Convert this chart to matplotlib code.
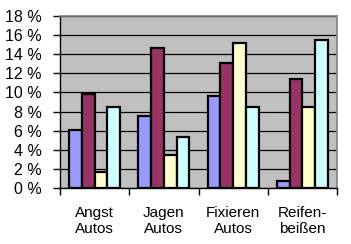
import matplotlib.pyplot as plt
import numpy as np

plt.rcParams['font.family'] = ['Liberation Sans', 'DejaVu Sans']

categories = ['Angst\nAutos', 'Jagen\nAutos', 'Fixieren\nAutos', 'Reifen-\nbeißen']
series_a = [6.1, 7.5, 9.6, 0.7]
series_b = [9.8, 14.7, 13.1, 11.4]
series_c = [1.7, 3.5, 15.2, 8.5]
series_d = [8.5, 5.3, 8.5, 15.5]
colors = ['#9999FF', '#993366', '#FFFFCC', '#CCFFFF']

fig = plt.figure(figsize=(3.51, 2.44), dpi=100)
ax = fig.add_axes([60 / 351, 1 - 188 / 244, 277 / 351, 172 / 244])
ax.set_facecolor('#C0C0C0')

x = np.arange(len(categories))
w = 0.185
for i, vals in enumerate([series_a, series_b, series_c, series_d]):
    ax.bar(x + (i - 1.5) * w, vals, w, color=colors[i], edgecolor='black',
           linewidth=1.6, zorder=3)

ax.set_xlim(-0.5, len(categories) - 0.5)
ax.set_ylim(0, 18)
ax.set_yticks(range(0, 19, 2))
ax.set_yticklabels([f'{v} %' for v in range(0, 19, 2)], fontsize=11.5)
ax.yaxis.grid(True, color='black', linewidth=0.9, zorder=1)
ax.set_axisbelow(True)

ax.set_xticks(np.arange(-0.5, len(categories), 1.0))
ax.set_xticklabels([])
ax.set_xticks(x, minor=True)
ax.set_xticklabels(categories, minor=True, fontsize=11, linespacing=1.2)
ax.tick_params(axis='x', which='minor', length=0, pad=13)
ax.tick_params(axis='x', which='major', length=5, width=1, direction='out')
ax.tick_params(axis='y', length=5, width=1, direction='out', pad=8)

for s in ['top', 'right']:
    ax.spines[s].set_color('#808080')
    ax.spines[s].set_linewidth(1.2)
for s in ['left', 'bottom']:
    ax.spines[s].set_color('black')
    ax.spines[s].set_linewidth(1)

fig.savefig('out.png', dpi=100)
